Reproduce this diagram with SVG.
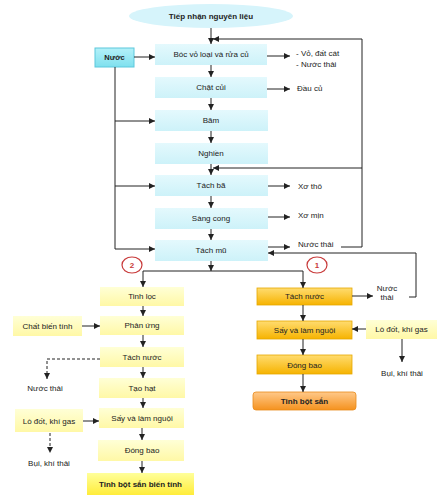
<svg xmlns="http://www.w3.org/2000/svg" width="444" height="500" viewBox="0 0 444 500">
<defs>
<linearGradient id="gCyan" x1="0" y1="0" x2="0" y2="1"><stop offset="0" stop-color="#e4f9fd"/><stop offset="1" stop-color="#cdf2f9"/></linearGradient>
<linearGradient id="gWater" x1="0" y1="0" x2="0" y2="1"><stop offset="0" stop-color="#b4f1f9"/><stop offset="1" stop-color="#7fe0ee"/></linearGradient>
<linearGradient id="gPale" x1="0" y1="0" x2="0" y2="1"><stop offset="0" stop-color="#ffffd6"/><stop offset="1" stop-color="#fff8a6"/></linearGradient>
<linearGradient id="gBright" x1="0" y1="0" x2="0" y2="1"><stop offset="0" stop-color="#ffff9a"/><stop offset="1" stop-color="#ffec3a"/></linearGradient>
<linearGradient id="gOrange" x1="0" y1="0" x2="0" y2="1"><stop offset="0" stop-color="#ffdc70"/><stop offset="1" stop-color="#f6b300"/></linearGradient>
<linearGradient id="gFinal" x1="0" y1="0" x2="0" y2="1"><stop offset="0" stop-color="#ffc98a"/><stop offset="1" stop-color="#f5921e"/></linearGradient>
<marker id="ah" markerUnits="userSpaceOnUse" markerWidth="7" markerHeight="6" refX="6" refY="3" orient="auto"><path d="M0,0 L6,3 L0,6 z" fill="#222"/></marker>
</defs>
<style>
text{font-family:"Liberation Sans",Arial,sans-serif;font-size:8px;fill:#222;text-anchor:middle}
.l{text-anchor:start}
.b{font-weight:bold}
.cy{fill:url(#gCyan)}
.pa{fill:url(#gPale)}
.or{fill:url(#gOrange);stroke:#e6a800;stroke-width:0.8}
.c line,.c path,.c polyline{stroke:#222;stroke-width:1;fill:none}
.ar{marker-end:url(#ah)}
.d{stroke-dasharray:3,2}
.circ{fill:#fff;stroke:#c83a3a;stroke-width:1.2}
.rt{fill:#c83a3a;font-weight:bold}
</style>

<g id="n-start"><ellipse cx="211" cy="16" rx="82" ry="12" fill="#d6f4fb"/><text class="b" x="211" y="19">Tiếp nhận nguyên liệu</text></g>
<g id="n-nuoc"><rect x="95" y="48" width="39" height="19" fill="url(#gWater)" stroke="#5cc8dc" stroke-width="1"/><text class="b" x="114.5" y="60" style="font-size:7.5px">Nước</text></g>
<g id="n-boc"><rect class="cy" x="155" y="44" width="112" height="21"/><text x="211" y="57">Bóc vỏ loại và rửa củ</text></g>
<g id="n-chat"><rect class="cy" x="155" y="77" width="112" height="21"/><text x="211" y="90">Chặt củi</text></g>
<g id="n-bam"><rect class="cy" x="155" y="110" width="113" height="21"/><text x="211" y="123">Băm</text></g>
<g id="n-nghien"><rect class="cy" x="155" y="143" width="113" height="21"/><text x="211" y="156">Nghiền</text></g>
<g id="n-tachba"><rect class="cy" x="155" y="175" width="113" height="21"/><text x="211" y="188">Tách bã</text></g>
<g id="n-sang"><rect class="cy" x="155" y="208" width="113" height="21"/><text x="211" y="221">Sàng cong</text></g>
<g id="n-tachmu"><rect class="cy" x="155" y="240" width="113" height="21"/><text x="211" y="253">Tách mũ</text></g>

<g id="o-vo"><text class="l" x="296" y="56">- Vỏ, đất cát</text><text class="l" x="296" y="67">- Nước thải</text></g>
<g id="o-dau"><text class="l" x="297" y="91">Đầu củ</text></g>
<g id="o-xotho"><text class="l" x="298" y="189">Xơ thô</text></g>
<g id="o-xomin"><text class="l" x="298" y="218">Xơ mịn</text></g>
<g id="o-nt1"><text class="l" x="298" y="247">Nước thải</text></g>

<g id="mark2"><ellipse class="circ" cx="132" cy="265" rx="10" ry="8"/><text class="rt" x="132" y="268">2</text></g>
<g id="mark1"><ellipse class="circ" cx="317" cy="265" rx="10" ry="8"/><text class="rt" x="317" y="268">1</text></g>

<g id="n-tinhloc"><rect class="pa" x="100" y="287" width="84" height="19"/><text x="142" y="299">Tinh lọc</text></g>
<g id="n-phanung"><rect class="pa" x="100" y="316" width="84" height="19"/><text x="142" y="328">Phản ứng</text></g>
<g id="n-tachnuoc2"><rect class="pa" x="100" y="347" width="84" height="20"/><text x="142" y="360">Tách nước</text></g>
<g id="n-taohat"><rect class="pa" x="99" y="378" width="86" height="20"/><text x="142" y="391">Tạo hạt</text></g>
<g id="n-say2"><rect class="pa" x="99" y="408" width="85" height="20"/><text x="142" y="421">Sấy và làm nguội</text></g>
<g id="n-dong2"><rect class="pa" x="98" y="440" width="86" height="21"/><text x="142" y="453">Đóng bao</text></g>
<g id="n-final2"><rect x="87" y="473" width="107" height="22" fill="url(#gBright)"/><text class="b" x="140.5" y="487">Tinh bột sắn biến tính</text></g>
<g id="n-chatbt"><rect class="pa" x="13" y="316" width="69" height="20"/><text x="47.5" y="329">Chất biến tính</text></g>
<g id="o-nt3"><text x="45" y="391">Nước thải</text></g>
<g id="n-lodot2"><rect class="pa" x="15" y="409" width="68" height="23"/><text x="49" y="424">Lò đốt, khí gas</text></g>
<g id="o-bui2"><text x="49" y="466">Bụi, khí thải</text></g>

<g id="n-tachnuoc1"><rect class="or" x="257" y="288" width="95" height="17"/><text x="304.5" y="299">Tách nước</text></g>
<g id="n-say1"><rect class="or" x="257" y="321" width="95" height="18"/><text x="304.5" y="333">Sấy và làm nguội</text></g>
<g id="n-dong1"><rect class="or" x="257" y="355" width="95" height="19"/><text x="304.5" y="368">Đóng bao</text></g>
<g id="n-final1"><rect x="253" y="392" width="103" height="18" rx="3" fill="url(#gFinal)" stroke="#e88a1a" stroke-width="0.8"/><text class="b" x="304.5" y="404">Tinh bột sắn</text></g>
<g id="o-nt2"><text x="387" y="291">Nước</text><text x="387" y="300">thải</text></g>
<g id="n-lodot1"><rect class="pa" x="366" y="320" width="71" height="19"/><text x="401.5" y="332">Lò đốt, khí gas</text></g>
<g id="o-bui1"><text x="402" y="376">Bụi, khí thải</text></g>

<g id="connectors" class="c">
<line class="ar" x1="211" y1="28" x2="211" y2="44"/>
<polyline class="ar" points="362,247 362,39 213,39"/>
<line x1="341" y1="247" x2="362" y2="247"/>
<line class="ar" x1="362" y1="168" x2="213" y2="168"/>
<line class="ar" x1="211" y1="65" x2="211" y2="77"/>
<line class="ar" x1="211" y1="98" x2="211" y2="110"/>
<line class="ar" x1="211" y1="131" x2="211" y2="143"/>
<line class="ar" x1="211" y1="164" x2="211" y2="175"/>
<line class="ar" x1="211" y1="196" x2="211" y2="208"/>
<line class="ar" x1="211" y1="229" x2="211" y2="240"/>
<line class="ar" x1="134" y1="57" x2="155" y2="57"/>
<line x1="115" y1="67" x2="115" y2="249"/>
<line class="ar" x1="115" y1="121" x2="155" y2="121"/>
<line class="ar" x1="115" y1="186" x2="155" y2="186"/>
<line class="ar" x1="115" y1="249" x2="155" y2="249"/>
<line class="ar" x1="267" y1="56" x2="290" y2="56"/>
<line class="ar" x1="267" y1="89" x2="290" y2="89"/>
<line class="ar" x1="268" y1="186" x2="290" y2="186"/>
<line class="ar" x1="268" y1="217" x2="290" y2="217"/>
<line class="ar" x1="268" y1="247" x2="290" y2="247"/>
<polyline class="ar" points="409,297 416,297 416,253 268,253"/>
<line class="ar" x1="211" y1="261" x2="211" y2="271"/>
<line x1="143" y1="271" x2="303" y2="271"/>
<line class="ar" x1="143" y1="271" x2="143" y2="287"/>
<line class="ar" x1="303" y1="271" x2="303" y2="288"/>
<line class="ar" x1="143" y1="306" x2="143" y2="316"/>
<line class="ar" x1="143" y1="335" x2="143" y2="347"/>
<line class="ar" x1="143" y1="367" x2="143" y2="378"/>
<line class="ar" x1="143" y1="398" x2="143" y2="408"/>
<line class="ar" x1="142" y1="428" x2="142" y2="440"/>
<line class="ar" x1="142" y1="461" x2="142" y2="473"/>
<line class="ar" x1="82" y1="326" x2="100" y2="326"/>
<polyline class="ar d" points="100,359 47,359 47,379"/>
<line class="ar" x1="83" y1="421" x2="99" y2="421"/>
<line class="ar d" x1="50" y1="433" x2="50" y2="453"/>
<line class="ar" x1="303" y1="305" x2="303" y2="321"/>
<line class="ar" x1="303" y1="339" x2="303" y2="355"/>
<line class="ar" x1="303" y1="374" x2="303" y2="392"/>
<line class="ar" x1="352" y1="296" x2="373" y2="296"/>
<line class="ar" x1="366" y1="329" x2="352" y2="329"/>
<line class="ar" x1="402" y1="339" x2="402" y2="362"/>
</g>
</svg>
